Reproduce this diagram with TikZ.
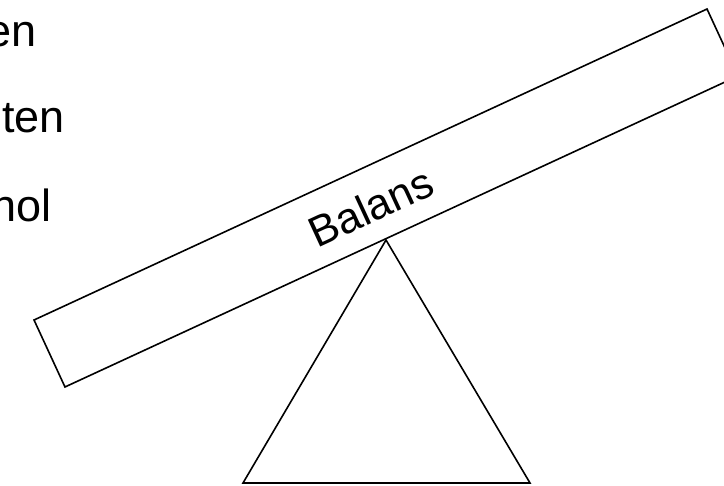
\documentclass[tikz,border=0pt]{standalone}
\usepackage{fontspec}
\setmainfont{Liberation Sans}
\begin{document}
\begin{tikzpicture}[x=1bp,y=-1bp,
  outline/.style={draw=black,line width=1.6bp,line join=miter},
  sidetext/.style={anchor=base west,inner sep=0pt,font=\fontsize{45bp}{54bp}\selectfont},
  planklabel/.style={anchor=base,inner sep=0pt,font=\fontsize{43bp}{52bp}\selectfont}]
\useasboundingbox (0,0) rectangle (724,486);
\clip (0,0) rectangle (724,486);
\node[sidetext] (t1) at (-14,46.7) {en};
\node[sidetext] (t2) at (2,133) {ten};
\node[sidetext] (t3) at (-9,221.7) {hol};
\node[outline,rotate=24.8,minimum width=741.4bp,minimum height=73.8bp,inner sep=0pt] (plank) at (386,198) {};
\node[planklabel,rotate=24.8] (lbl) at (377,221) {Balans};
\coordinate (apex) at (386,240);
\coordinate (bl) at (243,483);
\coordinate (br) at (530,483);
\draw[outline] (apex) -- (br) -- (bl) -- cycle;
\end{tikzpicture}
\end{document}
